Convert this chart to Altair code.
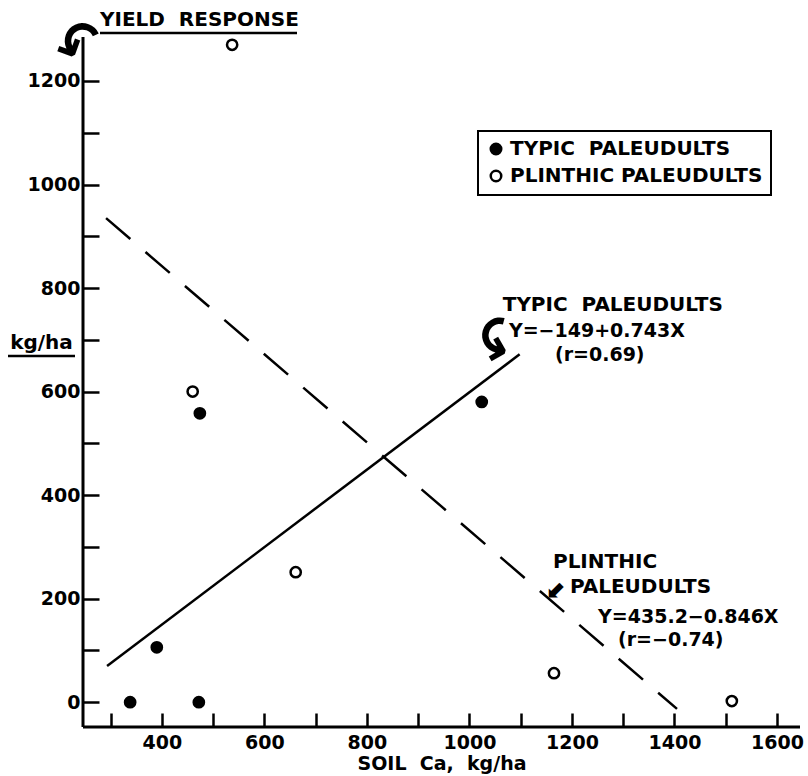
import altair as alt
import pandas as pd

# ---- data ----
NB = "\u00a0"
series = ["TYPIC" + NB + NB + "PALEUDULTS", "PLINTHIC" + NB + "PALEUDULTS"]
typic_x = [338, 390, 472, 474, 1024]
typic_y = [0, 106, 0, 558, 580]
plinthic_x = [537, 460, 661, 1165, 1512]
plinthic_y = [1270, 600, 251, 56, 2]

typic_line_x = [293, 1098]
typic_line_y = [70, 672]
plinthic_line_x = [291, 1405]
plinthic_line_y = [935, -13]

x_ticks = list(range(300, 1700, 100))
y_ticks = list(range(0, 1300, 100))
x_domain = [246, 1645]
y_domain = [-48, 1285]

ann_text = ["TYPIC" + NB + NB + "PALEUDULTS", "Y=\u2212149+0.743X", "(r=0.69)",
            "PLINTHIC", "PALEUDULTS", "Y=435.2\u22120.846X", "(r=\u22120.74)"]
ann_x = [1065, 1077, 1167, 1163, 1196, 1251, 1290]
ann_y = [767, 717, 671, 271, 222, 164, 120]
ann_size = [20, 19, 19, 20, 20, 19, 19]

FONT = "DejaVu Sans"
W, H = 717, 690

pts = pd.DataFrame({
    "x": typic_x + plinthic_x,
    "y": typic_y + plinthic_y,
    "soil": [series[0]] * len(typic_x) + [series[1]] * len(plinthic_x),
})
typ_line = pd.DataFrame({"x": typic_line_x, "y": typic_line_y})
pli_line = pd.DataFrame({"x": plinthic_line_x, "y": plinthic_line_y})
ann = pd.DataFrame({"x": ann_x, "y": ann_y, "label": ann_text, "fs": ann_size})

xs = alt.Scale(domain=x_domain, nice=False, zero=False)
ys = alt.Scale(domain=y_domain, nice=False, zero=False)

xaxis = alt.Axis(values=x_ticks, format="d",
                 labelExpr="datum.value % 200 == 0 ? datum.label : ''",
                 domain=False, grid=False, tickSize=14, tickWidth=2.5, tickColor="black",
                 offset=-14, labelPadding=6, labelFont=FONT, labelFontSize=19,
                 labelFontWeight="bold", labelColor="black", labelFlush=False,
                 labelOverlap=False,
                 title="SOIL" + NB + NB + "Ca," + NB + NB + "kg/ha", titleFont=FONT,
                 titleFontSize=19, titleFontWeight="bold", titleColor="black", titleY=50,
                 titleBaseline="middle")
yaxis = alt.Axis(values=y_ticks, format="d",
                 labelExpr="datum.value % 200 == 0 ? datum.label : ''",
                 domain=False, grid=False, tickSize=16, tickWidth=2.5, tickColor="black",
                 offset=-16, labelPadding=3, labelFont=FONT, labelFontSize=19,
                 labelFontWeight="bold", labelColor="black", labelFlush=False,
                 labelOverlap=False,
                 title="kg/ha", titleAngle=0, titleX=-58, titleY=305,
                 titleAlign="center", titleBaseline="middle", titleFont=FONT,
                 titleFontSize=20, titleFontWeight="bold", titleColor="black")

X = alt.X("x:Q", scale=xs, axis=xaxis)
Y = alt.Y("y:Q", scale=ys, axis=yaxis)

solid = alt.Chart(typ_line).mark_line(color="black", strokeWidth=2.5).encode(x=X, y=Y)
dashed = alt.Chart(pli_line).mark_line(color="black", strokeWidth=2.5,
                                        strokeDash=[32, 20]).encode(x=X, y=Y)

points = alt.Chart(pts).mark_circle(size=105, stroke="black", strokeWidth=2.5,
                                    opacity=1).encode(
    x=X, y=Y,
    fill=alt.Fill("soil:N", scale=alt.Scale(domain=series, range=["black", "white"]),
                  legend=alt.Legend(title=None, orient="none", legendX=395, legendY=94,
                                    padding=8, rowPadding=5, labelFont=FONT,
                                    labelFontSize=20, labelFontWeight="bold",
                                    labelColor="black", labelLimit=0, labelOffset=4,
                                    symbolSize=110, symbolStrokeColor="black",
                                    symbolStrokeWidth=2.5, symbolType="circle",
                                    strokeColor="black", fillColor="white")),
)

texts = alt.Chart(ann).mark_text(align="left", baseline="middle", font=FONT,
                                 fontWeight="bold", color="black").encode(
    x=X, y=Y, text="label:N", size=alt.Size("fs:Q", scale=None, legend=None))

one = pd.DataFrame({"t": ["YIELD" + NB + NB + "RESPONSE"]})
title = alt.Chart(one).mark_text(align="left", baseline="middle", font=FONT, fontSize=20,
                                 fontWeight="bold", color="black").encode(
    text="t:N", x=alt.value(17), y=alt.value(-17))

arr_df = pd.DataFrame({"t": ["\u21b6"]})
arrow_title = alt.Chart(arr_df).mark_text(font=FONT, fontSize=56, fontWeight="bold",
                                          color="black", angle=335).encode(
    text="t:N", x=alt.value(-3), y=alt.value(9))
arrow_typic = alt.Chart(pd.DataFrame({"t": ["\u21b6"], "x": [1064], "y": [699]})).mark_text(
    font=FONT, fontSize=56, fontWeight="bold", color="black", angle=285).encode(
    text="t:N", x=X, y=Y)
arrow_pl = alt.Chart(pd.DataFrame({"t": ["\u2b0b"], "x": [1170], "y": [216]})).mark_text(
    font=FONT, fontSize=24, fontWeight="bold", color="black").encode(
    text="t:N", x=X, y=Y)

rule_df = pd.DataFrame({"k": [0]})
def rule(**kw):
    return alt.Chart(rule_df).mark_rule(color="black", strokeWidth=kw.pop("w", 3)).encode(**kw)

y_line = rule(x=alt.value(0), y=alt.value(0), y2=alt.value(H))
x_line = rule(x=alt.value(0), x2=alt.value(W), y=alt.value(H))
ul_title = rule(x=alt.value(17), x2=alt.value(214), y=alt.value(-4), w=2.5)
ul_unit = rule(x=alt.value(-75), x2=alt.value(-8), y=alt.value(319), w=2.5)

chart = alt.layer(solid, dashed, points, texts, arrow_typic, arrow_pl,
                  title, arrow_title, y_line, x_line, ul_title, ul_unit).properties(
    width=W, height=H,
    autosize=alt.AutoSizeParams(type="none"),
    padding={"left": 83, "top": 37, "right": 8, "bottom": 49},
    background="white",
).configure_view(stroke=None).configure_legend(strokeWidth=2)

chart.save("out.html", embed_options={"renderer": "svg", "actions": False})
